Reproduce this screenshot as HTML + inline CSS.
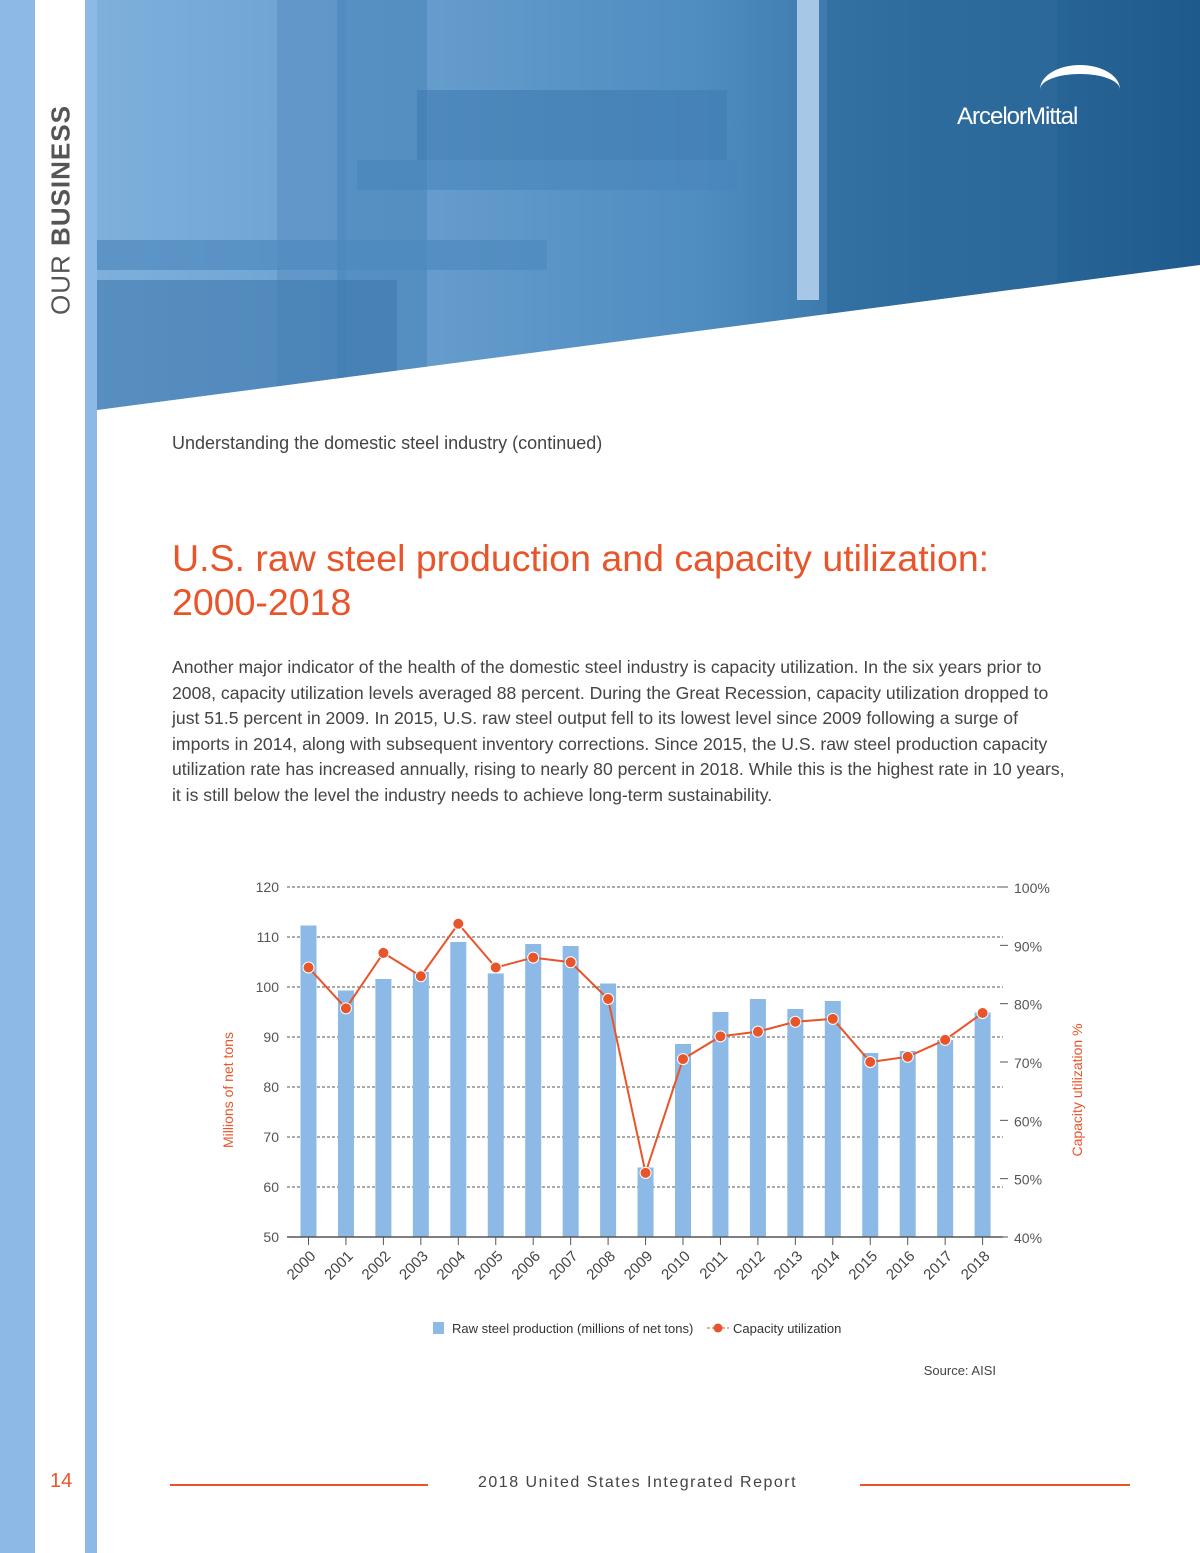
<!DOCTYPE html>
<html><head><meta charset="utf-8"><style>
body{margin:0;width:1200px;height:1553px;position:relative;background:#fff;font-family:"Liberation Sans",sans-serif;overflow:hidden}
.abs{position:absolute}
</style></head><body>
<div class="abs" style="left:0;top:0;width:35px;height:1553px;background:#8cb9e5"></div>
<div class="abs" style="left:85px;top:0;width:12px;height:1553px;background:#8cb9e5"></div>
<div class="abs" style="left:61px;top:210px;transform:translate(-50%,-50%) rotate(-90deg);white-space:nowrap;font-size:26px;color:#555;letter-spacing:1px">OUR <b>BUSINESS</b></div>
<svg class="abs" style="left:97px;top:0" width="1103" height="412">
<defs><linearGradient id="g" x1="0" x2="1" y1="0" y2="0"><stop offset="0" stop-color="#7fb0dc"/><stop offset="0.55" stop-color="#4f8cc0"/><stop offset="0.75" stop-color="#2f6d9f"/><stop offset="1" stop-color="#1f5a8c"/></linearGradient>
<clipPath id="c"><polygon points="0,0 1103,0 1103,265 0,410"/></clipPath></defs>
<g clip-path="url(#c)">
<rect width="1103" height="412" fill="url(#g)"/>
<rect x="180" y="0" width="70" height="412" fill="#5b93c4" opacity=".7"/>
<rect x="240" y="0" width="90" height="412" fill="#4a86bb" opacity=".6"/>
<rect x="0" y="240" width="450" height="30" fill="#4f89bd" opacity=".7"/>
<rect x="260" y="160" width="380" height="30" fill="#4a86bb" opacity=".6"/>
<rect x="730" y="0" width="230" height="412" fill="#2f6a9c" opacity=".6"/>
<rect x="700" y="0" width="22" height="300" fill="#a6c8e6"/>
<rect x="320" y="90" width="310" height="70" fill="#3f7cb1" opacity=".6"/>
<rect x="0" y="280" width="300" height="140" fill="#3e78ad" opacity=".6"/>
</g></svg>
<div class="abs" style="left:1040px;top:65px;width:80px;height:40px;border-top:9px solid #fff;border-radius:50% 50% 0 0"></div>
<div class="abs" style="left:957px;top:103px;font-size:24px;color:#fff;letter-spacing:-1px">ArcelorMittal</div>
<div class="abs" style="left:172px;top:433px;font-size:18px;color:#444">Understanding the domestic steel industry (continued)</div>
<div class="abs" style="left:172px;top:536px;font-size:37.5px;line-height:44px;color:#e8552a;white-space:nowrap">U.S. raw steel production and capacity utilization:<br>2000-2018</div>
<div class="abs" style="left:172px;top:655px;font-size:17.6px;line-height:25.5px;color:#444;white-space:nowrap">Another major indicator of the health of the domestic steel industry is capacity utilization. In the six years prior to<br>2008, capacity utilization levels averaged 88 percent. During the Great Recession, capacity utilization dropped to<br>just 51.5 percent in 2009. In 2015, U.S. raw steel output fell to its lowest level since 2009 following a surge of<br>imports in 2014, along with subsequent inventory corrections. Since 2015, the U.S. raw steel production capacity<br>utilization rate has increased annually, rising to nearly 80 percent in 2018. While this is the highest rate in 10 years,<br>it is still below the level the industry needs to achieve long-term sustainability.</div>
<svg class="abs" id="chart" style="left:0;top:860px" width="1200" height="540"></svg>
<div class="abs" style="left:50px;top:1470px;font-size:20px;color:#e8552a">14</div>
<div class="abs" style="left:170px;top:1484px;width:258px;height:2px;background:#e8552a"></div>
<div class="abs" style="left:478px;top:1474px;font-size:16px;letter-spacing:1.5px;color:#444">2018 United States Integrated Report</div>
<div class="abs" style="left:860px;top:1484px;width:270px;height:2px;background:#e8552a"></div>
<script>
const years=["2000","2001","2002","2003","2004","2005","2006","2007","2008","2009","2010","2011","2012","2013","2014","2015","2016","2017","2018"];
const production=[112.3,99.3,101.6,103,109,102.7,108.6,108.2,100.7,63.9,88.6,95,97.6,95.6,97.2,86.8,87.2,89.4,94.9];
const utilization=[86.2,79.2,88.7,84.7,93.7,86.2,87.9,87.1,80.8,51.0,70.5,74.4,75.2,76.9,77.4,70.0,70.9,73.8,78.4];
const leftTicks=[50,60,70,80,90,100,110,120];
const rightTicks=["40%","50%","60%","70%","80%","90%","100%"];
const ns="http://www.w3.org/2000/svg",svg=document.getElementById("chart");
const OY=-860;
const yL=v=>1237+OY-(v-50)*5, yR=v=>1237+OY-(v-40)*350/60, x=i=>308.5+i*37.45;
function mk(t,a,p){const e=document.createElementNS(ns,t);for(const k in a)e.setAttribute(k,a[k]);(p||svg).appendChild(e);return e;}
leftTicks.forEach(v=>{
 if(v>50){const l=mk("line",{x1:287,x2:1003,y1:yL(v),y2:yL(v),stroke:"#555","stroke-dasharray":"3,2","stroke-width":1});
 
 }
 const t=mk("text",{x:279,y:yL(v)+5,"text-anchor":"end","font-size":14,fill:"#555"});t.textContent=v;
 
 
});
rightTicks.forEach((s,i)=>{const t=mk("text",{x:1014,y:yR(40+i*10)+6,"font-size":14,fill:"#555"});t.textContent=s;
 
 
 const l=mk("line",{x1:1000,x2:1008,y1:yR(40+i*10),y2:yR(40+i*10),stroke:"#555"});
 
 });
production.forEach((v,i)=>{const r=mk("rect",{x:x(i)-8,y:yL(v),width:16,height:yL(50)-yL(v),fill:"#8cb9e5"});
 
 });
const ax=mk("line",{x1:287,x2:1003,y1:yL(50),y2:yL(50),stroke:"#555","stroke-width":1.5});


years.forEach((y,i)=>{const l=mk("line",{x1:x(i),x2:x(i),y1:yL(50),y2:yL(50)+8,stroke:"#555"});
 
 
 const t=mk("text",{x:x(i)+8,y:yL(50)+20,"text-anchor":"end","font-size":15,fill:"#444",transform:`rotate(-45 ${x(i)+8} ${yL(50)+20})`});t.textContent=y;
 
 });
const line=mk("polyline",{points:utilization.map((v,i)=>x(i)+","+yR(v)).join(" "),fill:"none",stroke:"#e8552a","stroke-width":2});


utilization.forEach((v,i)=>{const c=mk("circle",{cx:x(i),cy:yR(v),r:5.5,fill:"#e8552a",stroke:"#fff","stroke-width":1});
 
 });
let t=mk("text",{x:233,y:1090+OY,"text-anchor":"middle","font-size":14,fill:"#e8552a",transform:`rotate(-90 233 ${1090+OY})`});t.textContent="Millions of net tons";


t=mk("text",{x:1082,y:1090+OY,"text-anchor":"middle","font-size":14,fill:"#e8552a",transform:`rotate(-90 1082 ${1090+OY})`});t.textContent="Capacity utilization %";


const lg=mk("g",{});


mk("rect",{x:433,y:1322+OY,width:11,height:12,fill:"#8cb9e5"},lg);
t=mk("text",{x:452,y:1333+OY,"font-size":13,fill:"#333"},lg);t.textContent="Raw steel production (millions of net tons)";


mk("line",{x1:707,x2:729,y1:1328+OY,y2:1328+OY,stroke:"#e8552a","stroke-dasharray":"3,2"},lg);
mk("circle",{cx:718,cy:1328+OY,r:4.5,fill:"#e8552a"},lg);
t=mk("text",{x:733,y:1333+OY,"font-size":13,fill:"#333"},lg);t.textContent="Capacity utilization";


t=mk("text",{x:996,y:1375+OY,"text-anchor":"end","font-size":13,fill:"#444"});t.textContent="Source: AISI";


</script>
</body></html>
